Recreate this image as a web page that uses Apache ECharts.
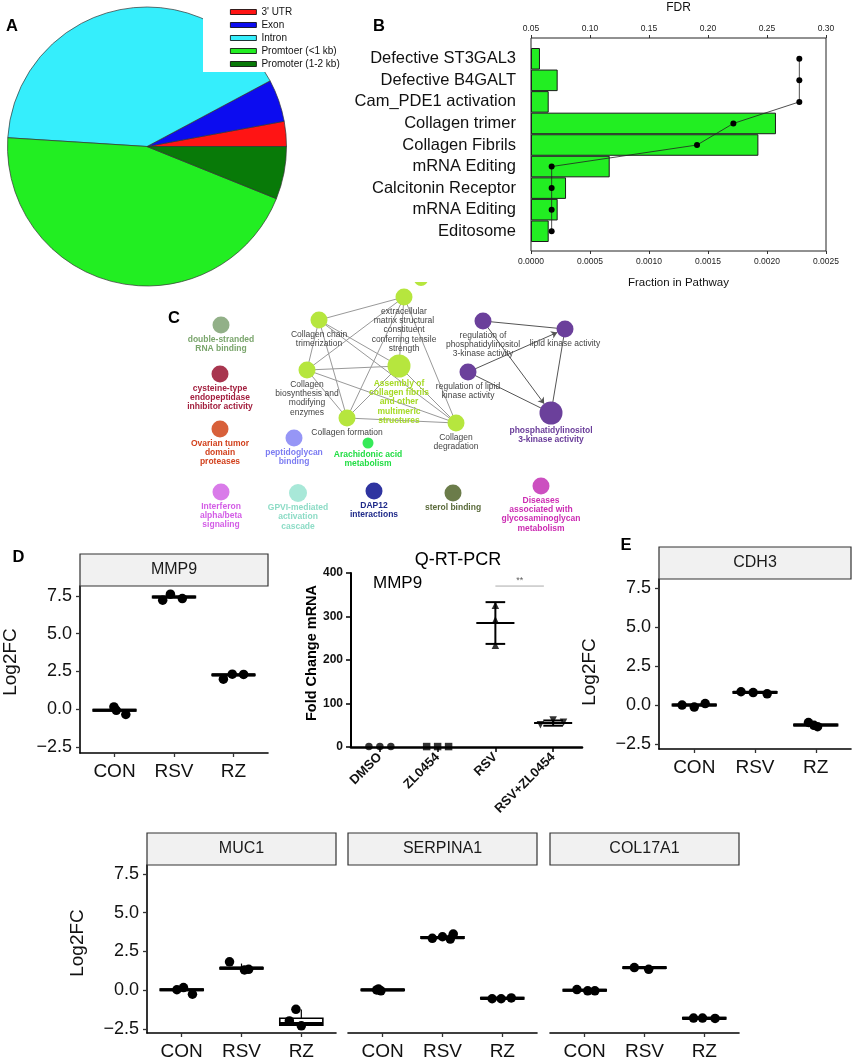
<!DOCTYPE html>
<html><head><meta charset="utf-8">
<script src="https://cdn.jsdelivr.net/npm/echarts@6/dist/echarts.min.js"></script>
<style>html,body{margin:0;padding:0;background:#fff}#c{width:858px;height:1063px}</style>
</head><body><div id="c"></div>
<script>
// ================= DATA =================
// Panel A
const pieLabels = ["3' UTR", "Exon", "Intron", "Promtoer (<1 kb)", "Promoter (1-2 kb)"];
const pieValues = [2.9, 4.9, 41.2, 44.9, 6.1];

// Panel B
const pathways = ["Defective ST3GAL3", "Defective B4GALT", "Cam_PDE1 activation", "Collagen trimer",
  "Collagen Fibrils", "mRNA Editing", "Calcitonin Receptor", "mRNA Editing", "Editosome"];
const fractionInPathway = [0.000076, 0.000226, 0.00015, 0.002076, 0.001927, 0.000667, 0.000297, 0.000226, 0.00015];
const fdrValues = [0.2774, 0.2774, 0.2774, 0.2215, 0.1907, 0.0675, 0.0675, 0.0675, 0.0675];

// Panel C (network): ids, labels, layout positions
const netIds = ["ds","cys","otu","ifn","gpvi","dap12","sterol","gag","pep","ara",
  "cct","ecm","cb","asm","cf","cd","rpi3k","lka","rlka","pi3k","cut"];
const netLabels = ["double-stranded\nRNA binding", "cysteine-type\nendopeptidase\ninhibitor activity",
  "Ovarian tumor\ndomain\nproteases", "Interferon\nalpha/beta\nsignaling", "GPVI-mediated\nactivation\ncascade",
  "DAP12\ninteractions", "sterol binding", "Diseases\nassociated with\nglycosaminoglycan\nmetabolism",
  "peptidoglycan\nbinding", "Arachidonic acid\nmetabolism",
  "Collagen chain\ntrimerization", "extracellular\nmatrix structural\nconstituent\nconferring tensile\nstrength",
  "Collagen\nbiosynthesis and\nmodifying\nenzymes", "Assembly of\ncollagen fibrils\nand other\nmultimeric\nstructures",
  "Collagen formation", "Collagen\ndegradation",
  "regulation of\nphosphatidylinositol\n3-kinase activity", "lipid kinase activity",
  "regulation of lipid\nkinase activity", "phosphatidylinositol\n3-kinase activity", ""];
const netX = [221,220,220,221,298,374,453,541,294,368, 319,404,307,399,347,456, 483,565,468,551, 421];
const netY = [325,374,429,492,493,491,493,486,438,443, 320,297,370,366,418,423, 321,329,372,413, 279];
const netEdges = [
  ["cct","ecm"],["cct","cb"],["cct","asm"],["cct","cf"],["cct","cd"],
  ["ecm","cb"],["ecm","asm"],["ecm","cf"],["ecm","cd"],
  ["cb","asm"],["cb","cf"],["cb","cd"],
  ["asm","cf"],["asm","cd"],["cf","cd"],
  ["rpi3k","lka"],["rlka","lka"],["rpi3k","pi3k"],["rlka","pi3k"],["lka","pi3k"]
];
const netDirected = [false,false,false,false,false, false,false,false,false, false,false,false, false,false,false,
  false,true,true,false,false];

// Panels D/E (log2FC)
const groups = ["CON", "RSV", "RZ"];
const yTicksLog = [-2.5, 0, 2.5, 5, 7.5];
const mmp9Values = [[0.15, -0.07, -0.35], [7.22, 7.62, 7.33], [1.99, 2.32, 2.30]];
const mmp9Jitter = [[-0.01, 0.03, 0.19], [-0.19, -0.06, 0.14], [-0.17, -0.02, 0.17]];
const mmp9Box = [[-0.11, -0.11, -0.07, -0.03, -0.03], [7.38, 7.38, 7.43, 7.48, 7.48], [2.23, 2.23, 2.27, 2.31, 2.31]];

const cdh3Values = [[0.0, -0.13, 0.09], [0.85, 0.80, 0.72], [-1.12, -1.30, -1.39]];
const cdh3Jitter = [[-0.2, 0.0, 0.18], [-0.23, -0.03, 0.2], [-0.12, -0.03, 0.03]];
const cdh3Box = [[-0.04, -0.04, 0.0, 0.04, 0.04], [0.77, 0.77, 0.81, 0.85, 0.85], [-1.32, -1.32, -1.28, -1.24, -1.24]];

const muc1Values = [[0.03, 0.17, -0.26], [1.83, 1.31, 1.35], [-1.23, -1.98, -2.30]];
const muc1Jitter = [[-0.08, 0.03, 0.18], [-0.2, 0.05, 0.12], [-0.09, -0.2, 0.0]];
const muc1Box = [[-0.01, -0.01, 0.03, 0.07, 0.07], [1.31, 1.37, 1.42, 1.46, 1.72], [-2.30, -2.26, -2.15, -1.81, -1.25]];

const serpValues = [[0.02, 0.08, -0.04], [3.35, 3.45, 3.30, 3.62], [-0.55, -0.55, -0.50]];
const serpJitter = [[-0.1, -0.07, -0.03], [-0.17, 0.0, 0.13, 0.18], [-0.17, -0.02, 0.15]];
const serpBox = [[-0.02, -0.02, 0.02, 0.06, 0.06], [3.36, 3.36, 3.40, 3.44, 3.44], [-0.56, -0.56, -0.52, -0.48, -0.48]];

const colValues = [[0.04, -0.04, -0.04], [1.46, 1.35], [-1.80, -1.80, -1.82]];
const colJitter = [[-0.13, 0.05, 0.17], [-0.17, 0.07], [-0.18, -0.03, 0.18]];
const colBox = [[-0.04, -0.04, 0.0, 0.04, 0.04], [1.42, 1.42, 1.46, 1.50, 1.50], [-1.85, -1.85, -1.81, -1.77, -1.77]];

// Q-RT-PCR
const pcrGroups = ["DMSO", "ZL0454", "RSV", "RSV+ZL0454"];
const pcrTicks = [0, 100, 200, 300, 400];
const pcrValues = [[1, 1, 1], [1, 1, 1], [326, 292, 234], [51, 62, 57]];
const pcrJitter = [[-0.19, 0, 0.19], [-0.19, 0, 0.19], [0, 0, 0], [-0.22, 0, 0.18]];
const pcrMean = [1, 1, 285, 55];
const pcrErr = [0, 0, 48, 6];
const pcrSig = {from: 2, to: 2.84, y: 370, text: "**"};

// ================= STYLE / LAYOUT =================
const FONT = "Liberation Sans, Arial, Helvetica, sans-serif";
const pieColors = ["#ff1414", "#0c0cf0", "#35eefc", "#22ee22", "#087a08"];
const netStyle = {
  ds:["#92b088","#7aa56c",17,true], cys:["#a8364f","#a3203f",17,true], otu:["#d8603a","#d2421e",17,true],
  ifn:["#d97be9","#d35ce6",17,true], gpvi:["#a8e8d8","#8ddcc6",18,true], dap12:["#2f34a0","#1f2a8a",17,true],
  sterol:["#6b7c4a","#5a6a3a",17,true], gag:["#cc4fc0","#cc2db3",17,true], pep:["#9696f6","#7c7cf2",17,true],
  ara:["#35ea58","#22dd44",11,true],
  cct:["#b6e63e","#444",17,false], ecm:["#b6e63e","#444",17,false], cb:["#b6e63e","#444",17,false],
  asm:["#b6e63e","#a6da26",23,true], cf:["#b6e63e","#444",17,false], cd:["#b6e63e","#444",17,false],
  rpi3k:["#6b409b","#444",17,false], lka:["#6b409b","#444",17,false], rlka:["#6b409b","#444",17,false],
  pi3k:["#6b409b","#6a3d9a",23,true], cut:["#b6e63e","#444",14,false]
};
const XR = [-0.58, 2.58];
const BOX_HALF = 0.36;

const chart = echarts.init(document.getElementById('c'), null, {renderer: 'canvas', width: 858, height: 1063});

const fmtLog = v => (v < 0 ? "\u2212" : "") + Math.abs(v).toFixed(1);

function ggX(gi) {
  return {type: 'value', gridIndex: gi, min: XR[0], max: XR[1],
    axisLine: {show: true, onZero: false, lineStyle: {color: '#000', width: 1.6}},
    axisTick: {show: true, customValues: [0, 1, 2], length: 4, lineStyle: {color: '#333', width: 1.3}},
    axisLabel: {customValues: [0, 1, 2], formatter: v => groups[Math.round(v)], fontSize: 19, color: '#111', margin: 9, fontFamily: FONT},
    splitLine: {show: false}};
}
function ggY(gi, min, max, show) {
  return {type: 'value', gridIndex: gi, min: min, max: max, show: show,
    axisLine: {show: true, onZero: false, lineStyle: {color: '#000', width: 1.6}},
    axisTick: {show: true, customValues: yTicksLog, length: 4, lineStyle: {color: '#333', width: 1.3}},
    axisLabel: {customValues: yTicksLog, formatter: fmtLog, fontSize: 18, color: '#111', margin: 8, fontFamily: FONT},
    splitLine: {show: false}};
}
function boxRender(params, api) {
  const x = api.value(0);
  const lo = api.value(1), q1 = api.value(2), med = api.value(3), q3 = api.value(4), hi = api.value(5);
  const c = api.coord([x, med]);
  const hw = api.coord([x + BOX_HALF, med])[0] - c[0];
  const yq1 = api.coord([x, q1])[1], yq3 = api.coord([x, q3])[1];
  const ylo = api.coord([x, lo])[1], yhi = api.coord([x, hi])[1];
  return {type: 'group', children: [
    {type: 'line', shape: {x1: c[0], y1: yq3, x2: c[0], y2: yhi}, style: {stroke: '#000', lineWidth: 1.2}},
    {type: 'line', shape: {x1: c[0], y1: yq1, x2: c[0], y2: ylo}, style: {stroke: '#000', lineWidth: 1.2}},
    {type: 'rect', shape: {x: c[0] - hw, y: yq3, width: 2 * hw, height: yq1 - yq3}, style: {fill: '#fff', stroke: '#000', lineWidth: 1.6}},
    {type: 'line', shape: {x1: c[0] - hw, y1: c[1], x2: c[0] + hw, y2: c[1]}, style: {stroke: '#000', lineWidth: 3.2}}
  ]};
}
function pcrRender(params, api) {
  const x = api.value(0), m = api.value(1), lo = api.value(2), hi = api.value(3);
  if (hi - lo <= 0) return null;
  const pm = api.coord([x, m]);
  const ylo = api.coord([x, lo])[1], yhi = api.coord([x, hi])[1];
  const mw = api.coord([x + 0.33, m])[0] - pm[0], cw = api.coord([x + 0.17, m])[0] - pm[0];
  const st = {stroke: '#000', lineWidth: 2};
  return {type: 'group', children: [
    {type: 'line', shape: {x1: pm[0], y1: ylo, x2: pm[0], y2: yhi}, style: st},
    {type: 'line', shape: {x1: pm[0] - cw, y1: ylo, x2: pm[0] + cw, y2: ylo}, style: st},
    {type: 'line', shape: {x1: pm[0] - cw, y1: yhi, x2: pm[0] + cw, y2: yhi}, style: st},
    {type: 'line', shape: {x1: pm[0] - mw, y1: pm[1], x2: pm[0] + mw, y2: pm[1]}, style: st}
  ]};
}
function ggSeries(xIdx, yIdx, values, jitter, box) {
  const pts = [];
  values.forEach((arr, g) => arr.forEach((v, k) => pts.push([g + jitter[g][k], v])));
  return [
    {type: 'custom', coordinateSystem: 'cartesian2d', xAxisIndex: xIdx, yAxisIndex: yIdx, renderItem: boxRender,
      data: box.map((b, g) => [g].concat(b)), encode: {x: 0, y: [1, 2, 3, 4, 5]}, silent: true, z: 2},
    {type: 'scatter', xAxisIndex: xIdx, yAxisIndex: yIdx, data: pts, symbolSize: 9.5,
      itemStyle: {color: '#000', opacity: 1}, silent: true, z: 3}
  ];
}

// layouts
const gMMP9 = {left: 80, top: 586, width: 188, height: 167};
const gPCR = {left: 351, top: 573, width: 231, height: 174};
const gCDH3 = {left: 659, top: 579, width: 192, height: 170};
const gMUC1 = {left: 147, top: 865, width: 189, height: 168};
const gSERP = {left: 348, top: 865, width: 189, height: 168};
const gCOL = {left: 550, top: 865, width: 189, height: 168};
const STRIP_H = 32;

const grids = [
  {left: 531, top: 48, width: 295, height: 194},
  gMMP9, gPCR, gCDH3, gMUC1, gSERP, gCOL,
  {left: 160, top: 270, width: 440, height: 275}
];

const xAxes = [
  {type: 'value', gridIndex: 0, position: 'bottom', offset: 9, min: 0, max: 0.0025, interval: 0.0005,
    axisLine: {show: false}, axisTick: {show: true, length: 3, lineStyle: {color: '#333'}},
    axisLabel: {formatter: v => v.toFixed(4), fontSize: 8.5, color: '#222', margin: 6, fontFamily: FONT},
    splitLine: {show: false}, name: 'Fraction in Pathway', nameLocation: 'middle', nameGap: 26,
    nameTextStyle: {fontSize: 11.5, color: '#111', fontFamily: FONT}},
  {type: 'value', gridIndex: 0, position: 'top', offset: 10, min: 0.05, max: 0.30, interval: 0.05,
    axisLine: {show: false}, axisTick: {show: true, length: 3, lineStyle: {color: '#333'}},
    axisLabel: {formatter: v => v.toFixed(2), fontSize: 8.5, color: '#222', margin: 5, fontFamily: FONT},
    splitLine: {show: false}, name: 'FDR', nameLocation: 'middle', nameGap: 24,
    nameTextStyle: {fontSize: 12, color: '#111', fontFamily: FONT}},
  ggX(1),
  {type: 'value', gridIndex: 2, min: -0.5, max: 3.5,
    axisLine: {show: true, onZero: false, lineStyle: {color: '#000', width: 2.6}},
    axisTick: {show: true, customValues: [0, 1, 2, 3], length: 5, lineStyle: {color: '#000', width: 1.5}},
    axisLabel: {customValues: [0, 1, 2, 3], formatter: v => pcrGroups[Math.round(v)], rotate: 45,
      fontSize: 13, fontWeight: 'bold', color: '#111', margin: 8, fontFamily: FONT},
    splitLine: {show: false}},
  ggX(3), ggX(4), ggX(5), ggX(6),
  {type: 'value', gridIndex: 7, min: 160, max: 600, show: false, splitLine: {show: false}}
];
const yAxes = [
  {type: 'category', gridIndex: 0, inverse: true, data: pathways.map((p, i) => String(i)),
    axisLine: {show: false}, axisTick: {show: false},
    axisLabel: {interval: 0, formatter: (v, i) => pathways[i], fontSize: 16.5, color: '#111', margin: 15, fontFamily: FONT}},
  ggY(1, -2.90, 8.16, true),
  {type: 'value', gridIndex: 2, min: 0, max: 400, interval: 100,
    axisLine: {show: true, onZero: false, lineStyle: {color: '#000', width: 2}},
    axisTick: {show: true, length: 5, lineStyle: {color: '#000', width: 1.5}},
    axisLabel: {fontSize: 12, fontWeight: 'bold', color: '#111', margin: 8, fontFamily: FONT},
    splitLine: {show: false}},
  ggY(3, -2.82, 8.08, true),
  ggY(4, -2.76, 8.08, true),
  ggY(5, -2.76, 8.08, false),
  ggY(6, -2.76, 8.08, false),
  {type: 'value', gridIndex: 7, min: 270, max: 545, inverse: true, show: false, splitLine: {show: false}}
];

const series = [];
series.push({type: 'pie', center: [147, 146.5], radius: [0, 139.5], startAngle: 0, clockwise: false,
  data: pieLabels.map((n, i) => ({name: n, value: pieValues[i], itemStyle: {color: pieColors[i]}})),
  itemStyle: {borderColor: '#333', borderWidth: 0.7}, label: {show: false}, labelLine: {show: false},
  emphasis: {disabled: true}, silent: true, z: 2});
series.push({type: 'bar', xAxisIndex: 0, yAxisIndex: 0, data: fractionInPathway, barCategoryGap: '0%',
  itemStyle: {color: '#22ee22', borderColor: '#1a1a1a', borderWidth: 1}, silent: true, z: 2});
series.push({type: 'line', xAxisIndex: 1, yAxisIndex: 0, data: fdrValues.map((v, i) => [v, i]),
  symbol: 'circle', symbolSize: 6, itemStyle: {color: '#000'}, lineStyle: {color: '#222', width: 0.8},
  silent: true, z: 4});
const nodes = netIds.map((id, i) => {
  const s = netStyle[id];
  return {name: id, value: [netX[i], netY[i]], symbolSize: s[2], itemStyle: {color: s[0]},
    label: {show: netLabels[i] !== "", formatter: netLabels[i], color: s[1], fontWeight: s[3] ? 'bold' : 'normal'}};
});
const links = netEdges.map((e, i) => ({source: e[0], target: e[1],
  symbol: netDirected[i] ? ['none', 'arrow'] : ['none', 'none'], symbolSize: [0, 6],
  lineStyle: {color: i >= 15 ? '#555' : '#999', width: 1}}));
series.push({type: 'graph', coordinateSystem: 'cartesian2d', xAxisIndex: 8, yAxisIndex: 7,
  data: nodes, links: links, roam: false, silent: true, emphasis: {disabled: true},
  label: {show: true, position: 'bottom', distance: 1, fontSize: 8.5, lineHeight: 9.4, align: 'center', fontFamily: FONT},
  lineStyle: {opacity: 1}, z: 2});
series.push(...ggSeries(2, 1, mmp9Values, mmp9Jitter, mmp9Box));
series.push(...ggSeries(4, 3, cdh3Values, cdh3Jitter, cdh3Box));
series.push(...ggSeries(5, 4, muc1Values, muc1Jitter, muc1Box));
series.push(...ggSeries(6, 5, serpValues, serpJitter, serpBox));
series.push(...ggSeries(7, 6, colValues, colJitter, colBox));
series.push({type: 'custom', coordinateSystem: 'cartesian2d', xAxisIndex: 3, yAxisIndex: 2, renderItem: pcrRender,
  data: pcrMean.map((m, g) => [g, m, m - pcrErr[g], m + pcrErr[g]]), encode: {x: 0, y: [1, 2, 3]}, silent: true, z: 2});
const pcrSymbols = ['circle', 'rect', 'triangle', 'triangle'];
const pcrRot = [0, 0, 0, 180];
const pcrPts = [];
pcrValues.forEach((arr, g) => arr.forEach((v, k) => pcrPts.push({value: [g + pcrJitter[g][k], v], symbol: pcrSymbols[g], symbolRotate: pcrRot[g]})));
series.push({type: 'scatter', xAxisIndex: 3, yAxisIndex: 2, data: pcrPts, symbolSize: 7.5,
  itemStyle: {color: '#000'}, silent: true, z: 3});
series.push({type: 'line', xAxisIndex: 3, yAxisIndex: 2, data: [[pcrSig.from, pcrSig.y], [pcrSig.to, pcrSig.y]],
  symbol: 'none', lineStyle: {color: '#aaa', width: 1}, silent: true, z: 2});
series.push({type: 'scatter', xAxisIndex: 3, yAxisIndex: 2, data: [[(pcrSig.from + pcrSig.to) / 2, pcrSig.y]],
  symbolSize: 0, label: {show: true, formatter: pcrSig.text, position: 'top', distance: 1, fontSize: 9, color: '#333', fontFamily: FONT},
  silent: true});

const gr = [];
const txt = (x, y, text, size, opts) => Object.assign({type: 'text', x: x, y: y, z: 30,
  style: Object.assign({text: text, fontSize: size, fontFamily: FONT, fill: '#000', align: 'center', verticalAlign: 'middle'}, (opts && opts.style) || {})},
  (opts && opts.el) || {});
gr.push({type: 'rect', shape: {x: 203, y: 0, width: 143, height: 72}, style: {fill: '#fff'}, z: 10});
gr.push({type: 'rect', shape: {x: 405, y: 262, width: 35, height: 20}, style: {fill: '#fff'}, z: 10});
gr.push({type: 'rect', shape: {x: 531, y: 38, width: 295, height: 213}, style: {fill: 'none', stroke: '#222', lineWidth: 1}, z: 10});
[["A", 12, 26], ["B", 379, 26], ["C", 174, 318], ["D", 18.5, 557], ["E", 626, 545]].forEach(l =>
  gr.push(txt(l[1], l[2], l[0], 16.5, {style: {fontWeight: 'bold'}})));
[[gMMP9, "MMP9"], [gCDH3, "CDH3"], [gMUC1, "MUC1"], [gSERP, "SERPINA1"], [gCOL, "COL17A1"]].forEach(s => {
  const g = s[0];
  gr.push({type: 'rect', shape: {x: g.left, y: g.top - STRIP_H, width: g.width, height: STRIP_H},
    style: {fill: '#f1f1f1', stroke: '#333', lineWidth: 1.2}, z: 10});
  gr.push(txt(g.left + g.width / 2, g.top - STRIP_H / 2, s[1], 16, {style: {fill: '#1a1a1a'}}));
});
[[11, 662], [590, 672], [78, 943]].forEach(p =>
  gr.push(txt(p[0], p[1], "Log2FC", 19, {el: {rotation: Math.PI / 2}, style: {fill: '#111'}})));
gr.push(txt(458, 560, "Q-RT-PCR", 18));
gr.push(txt(373, 583, "MMP9", 17, {style: {align: 'left'}}));
gr.push(txt(312, 653, "Fold Change mRNA", 14.5, {el: {rotation: Math.PI / 2}, style: {fontWeight: 'bold'}}));

chart.setOption({
  animation: false,
  backgroundColor: '#fff',
  textStyle: {fontFamily: FONT},
  legend: {data: pieLabels, orient: 'vertical', left: 225, top: 1, itemWidth: 26, itemHeight: 5, itemGap: 1,
    icon: 'rect', selectedMode: false, z: 20,
    textStyle: {fontSize: 10, lineHeight: 12, color: '#111', fontFamily: FONT},
    itemStyle: {borderColor: '#000', borderWidth: 0.8}},
  grid: grids,
  xAxis: xAxes,
  yAxis: yAxes,
  series: series,
  graphic: gr
});
</script>
</body></html>
